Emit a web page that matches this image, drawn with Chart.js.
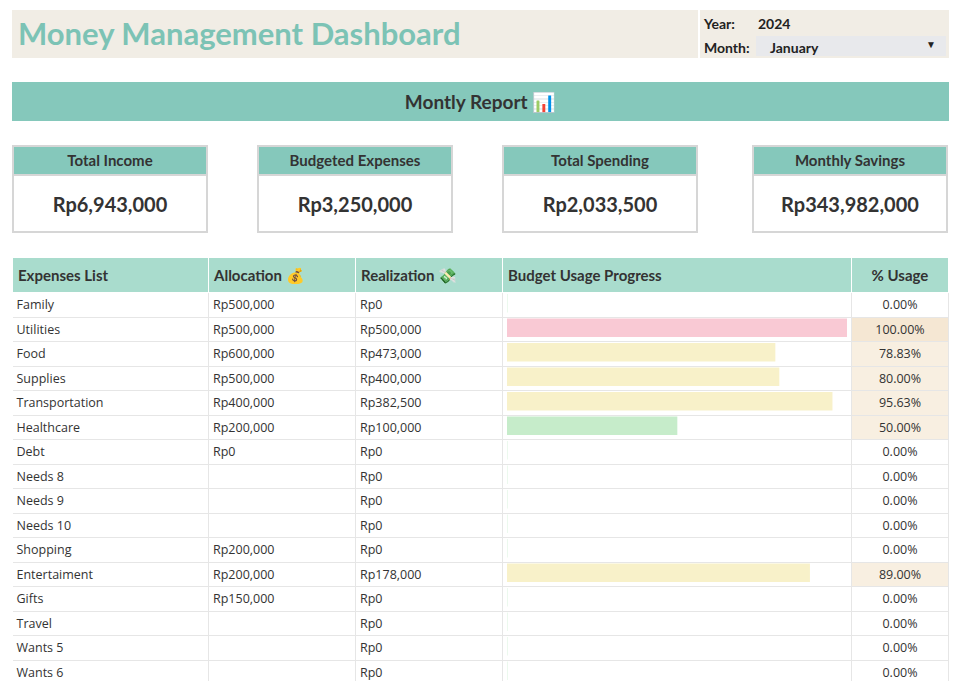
<!DOCTYPE html>
<html>
<head>
<meta charset="utf-8">
<script src="https://cdn.jsdelivr.net/npm/chart.js@4"></script>
<style>
  body { margin: 0; width: 960px; height: 681px; overflow: hidden; background: #fff; font-family: "Open Sans", Lato, sans-serif; color: #333; position: relative; }
  .abs { position: absolute; box-sizing: border-box; }
  #head { left: 12px; top: 10px; width: 937px; height: 48px; background: #f1ede5; }
  #title { left: 18px; top: 14px; font-family: Lato, sans-serif; font-weight: 700; font-size: 31px; color: #7cc3b5; }
  #sel { left: 698px; top: 10px; width: 251px; height: 48px; border-left: 2px solid #fff; font-family: Lato, sans-serif; font-weight: 700; font-size: 14px; color: #222; }
  #report { left: 12px; top: 82px; width: 937px; height: 39px; background: #85c8bb; text-align: center; line-height: 39px; font-family: Lato, sans-serif; font-weight: 700; font-size: 19px; color: #333; }
  .card { width: 196px; height: 88px; border: 2px solid #d6d6d6; top: 145px; }
  .card .h { background: #85c8bb; height: 27px; line-height: 27px; text-align: center; font-family: Lato, sans-serif; font-weight: 700; font-size: 15px; border-bottom: 2px solid #d6d6d6; }
  .card .v { text-align: center; line-height: 56px; font-family: Lato, sans-serif; font-weight: 700; font-size: 20px; color: #333; }
  table { position: absolute; left: 12px; top: 257px; border-collapse: collapse; table-layout: fixed; font-size: 12.5px; }
  th { background: #a9dccd; height: 34px; text-align: left; padding: 0 5px; font-family: Lato, sans-serif; font-size: 15px; border: 1px solid #fff; }
  td { height: 24.5px; padding: 0 4px; border-right: 1px solid #e6e6e6; border-bottom: 1px solid #e6e6e6; box-sizing: border-box; }
  td.p { text-align: center; }
  #wrap { left: 502px; top: 291px; width: 349px; height: 392px; }
</style>
</head>
<body>
<div class="abs" id="head"></div>
<div class="abs" id="title">Money Management Dashboard</div>
<div class="abs" id="sel">
  <div style="position:absolute;left:4px;top:5px">Year:</div>
  <div style="position:absolute;left:58px;top:5px">2024</div>
  <div style="position:absolute;left:4px;top:29px">Month:</div>
  <div style="position:absolute;left:56px;top:26px;width:190px;height:20px;background:#e8e9ec"></div>
  <div style="position:absolute;left:70px;top:29px">January</div>
  <div style="position:absolute;left:226px;top:28px;font-size:10px">&#9660;</div>
</div>
<div class="abs" id="report">Montly Report 📊</div>
<div id="cards"></div>
<table id="tbl"></table>
<div class="abs" id="wrap"><canvas id="bars"></canvas></div>
<script>
const cardTitles = ["Total Income", "Budgeted Expenses", "Total Spending", "Monthly Savings"];
const cardValues = ["Rp6,943,000", "Rp3,250,000", "Rp2,033,500", "Rp343,982,000"];
const categories = ["Family", "Utilities", "Food", "Supplies", "Transportation", "Healthcare", "Debt", "Needs 8", "Needs 9", "Needs 10", "Shopping", "Entertaiment", "Gifts", "Travel", "Wants 5", "Wants 6"];
const allocation = ["Rp500,000", "Rp500,000", "Rp600,000", "Rp500,000", "Rp400,000", "Rp200,000", "Rp0", "", "", "", "Rp200,000", "Rp200,000", "Rp150,000", "", "", ""];
const realization = ["Rp0", "Rp500,000", "Rp473,000", "Rp400,000", "Rp382,500", "Rp100,000", "Rp0", "Rp0", "Rp0", "Rp0", "Rp0", "Rp178,000", "Rp0", "Rp0", "Rp0", "Rp0"];
const usage = [0, 100, 78.83, 80, 95.63, 50, 0, 0, 0, 0, 0, 89, 0, 0, 0, 0];

const cardX = [12, 257, 502, 752];
document.getElementById("cards").innerHTML = cardTitles.map((t, i) =>
  `<div class="abs card" style="left:${cardX[i]}px"><div class="h">${t}</div><div class="v">${cardValues[i]}</div></div>`).join("");

function cellBg(u) {
  if (u >= 100) return "#f5e7d3";
  if (u > 0) return "#f8efe1";
  return "#fff";
}
let html = `<colgroup><col style="width:196px"><col style="width:147px"><col style="width:147px"><col style="width:349px"><col style="width:97px"></colgroup>
<tr><th>Expenses List</th><th>Allocation 💰</th><th>Realization 💸</th><th>Budget Usage Progress</th><th style="text-align:center">% Usage</th></tr>`;
categories.forEach((c, i) => {
  html += `<tr><td>${c}</td><td>${allocation[i]}</td><td>${realization[i]}</td><td></td><td class="p" style="background:${cellBg(usage[i])}">${usage[i].toFixed(2)}%</td></tr>`;
});
document.getElementById("tbl").innerHTML = html;

function barColor(u) {
  if (u >= 100) return "#f9c9d4";
  if (u <= 50) return "#c6ecca";
  return "#f8f1c9";
}
new Chart(document.getElementById("bars"), {
  type: "bar",
  data: {
    labels: categories,
    datasets: [{ data: usage, backgroundColor: usage.map(barColor), barThickness: 18, borderWidth: 0 }],
  },
  options: {
    indexAxis: "y",
    responsive: true,
    maintainAspectRatio: false,
    animation: false,
    layout: { padding: { left: 5, right: 4, top: 0, bottom: 0 } },
    plugins: { legend: { display: false }, tooltip: { enabled: false } },
    scales: {
      x: { display: false, min: 0, max: 100 },
      y: { display: false },
    },
  },
});
</script>
</body>
</html>
